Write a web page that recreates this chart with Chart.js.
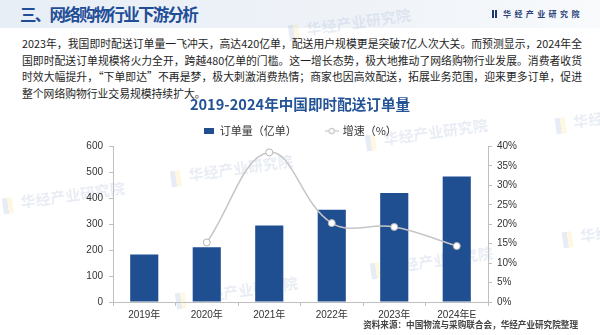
<!DOCTYPE html>
<html>
<head>
<meta charset="utf-8">
<script src="https://cdn.jsdelivr.net/npm/chart.js@4.4.0/dist/chart.umd.min.js"></script>
<style>
html, body { margin: 0; padding: 0; background: #fff; }
body { width: 600px; height: 335px; position: relative; overflow: hidden; font-family: 'Noto Sans CJK SC', sans-serif; }
.band { position: absolute; left: 0; top: 0; width: 600px; height: 28px; background: linear-gradient(to right, #e8eef6, #eff3f8 60%, #f8fafc); }
.title { position: absolute; left: 20px; top: 3px; font-size: 16.5px; font-weight: bold; color: #1f4e97; letter-spacing: -1.75px; line-height: 22px; white-space: nowrap; }
.logo { position: absolute; left: 492px; top: 9px; height: 12px; white-space: nowrap; }
.logo .ico { position: absolute; left: 0; top: 1px; width: 2px; height: 8px; background: #1d3a70; box-shadow: 3px 0 0 #1d3a70; }
.logo .txt { position: absolute; left: 11px; top: -1px; font-size: 8px; font-weight: bold; color: #2a4479; letter-spacing: 3.4px; line-height: 12px; }
.para { position: absolute; left: 22px; top: 35px; width: 560px; font-size: 10.8px; line-height: 16.6px; color: #1e1e1e; }
.para div { text-align: justify; text-align-last: justify; white-space: nowrap; }
.para div.last { text-align-last: left; }
.src { position: absolute; right: 22px; top: 318px; font-size: 8.6px; font-weight: bold; color: #444; line-height: 13px; white-space: nowrap; }
.wm { position: absolute; white-space: nowrap; font-size: 15px; font-weight: bold; color: rgba(150, 170, 205, 0.22); transform: rotate(-8deg); }
.wm::before { content: ''; display: inline-block; width: 10px; height: 16px; margin-right: 8px; vertical-align: middle; background: linear-gradient(to right, rgba(120, 150, 200, 0.18) 50%, rgba(250, 220, 120, 0.22) 50%); }
#wrap { position: absolute; left: 0; top: 94px; width: 600px; height: 241px; }
</style>
</head>
<body>
<div class="band"></div>
<div class="wm" style="left:288px;top:12px;">华经产业研究院</div>
<div class="wm" style="left:2px;top:185px;">华经产业研究院</div>
<div class="wm" style="left:170px;top:158px;">华经产业研究院</div>
<div class="wm" style="left:365px;top:122px;">华经产业研究院</div>
<div class="wm" style="left:175px;top:280px;">华经产业研究院</div>
<div class="wm" style="left:370px;top:250px;">华经产业研究院</div>
<div class="wm" style="left:555px;top:108px;">华经产业</div>
<div class="wm" style="left:562px;top:222px;">华经产业</div>
<div class="title">三、网络购物行业下游分析</div>
<div class="logo"><span class="ico"></span><span class="txt">华经产业研究院</span></div>
<div class="para">
  <div>2023年，我国即时配送订单量一飞冲天，高达420亿单，配送用户规模更是突破7亿人次大关。而预测显示，2024年全</div>
  <div>国即时配送订单规模将火力全开，跨越480亿单的门槛。这一增长态势，极大地推动了网络购物行业发展。消费者收货</div>
  <div>时效大幅提升，“下单即达”不再是梦，极大刺激消费热情；商家也因高效配送，拓展业务范围，迎来更多订单，促进</div>
  <div class="last">整个网络购物行业交易规模持续扩大。</div>
</div>
<div id="wrap"><canvas id="chart"></canvas></div>
<div class="src">资料来源：中国物流与采购联合会，华经产业研究院整理</div>
<script>
const years = ['2019年', '2020年', '2021年', '2022年', '2023年', '2024年E'];
const orders = [183, 211, 295, 356, 421, 484];
const growth = [null, 15.3, 38.5, 20.3, 19.3, 14.4];
const orderTicks = [0, 100, 200, 300, 400, 500, 600];
const growthTicks = [0, 5, 10, 15, 20, 25, 30, 35, 40];

const barColor = '#1f4e91';
const lineColor = '#c6c6c6';
const axisColor = '#bfbfbf';
const tickFont = { family: "'Liberation Sans', 'Noto Sans CJK SC'", size: 10 };

// small legend markers: a flat box and a line with a hollow dot
function makeMarks() {
    const bar = document.createElement('canvas');
    bar.width = 10; bar.height = 6;
    const b = bar.getContext('2d');
    b.fillStyle = barColor;
    b.fillRect(0, 0, 10, 6);

    const line = document.createElement('canvas');
    line.width = 14; line.height = 8;
    const l = line.getContext('2d');
    l.strokeStyle = lineColor;
    l.lineWidth = 1.2;
    l.beginPath(); l.moveTo(0, 4); l.lineTo(14, 4); l.stroke();
    l.fillStyle = '#fff';
    l.beginPath(); l.arc(7, 4, 2.6, 0, Math.PI * 2); l.fill(); l.stroke();
    return [bar, line];
}
const marks = makeMarks();

new Chart(document.getElementById('chart'), {
    data: {
        labels: years,
        datasets: [{
            type: 'bar',
            label: '订单量（亿单）',
            data: orders,
            backgroundColor: barColor,
            categoryPercentage: 1,
            barPercentage: 0.45,
            yAxisID: 'y',
            order: 2
        }, {
            type: 'line',
            label: '增速（%）',
            data: growth,
            borderColor: lineColor,
            borderWidth: 1.5,
            tension: 0.4,
            pointRadius: 3.5,
            pointBackgroundColor: '#fff',
            pointBorderColor: '#b4b4b4',
            pointBorderWidth: 1,
            yAxisID: 'y1',
            order: 1
        }]
    },
    options: {
        responsive: true,
        maintainAspectRatio: false,
        animation: false,
        layout: { padding: { left: 0, right: 0, top: 0, bottom: 13 } },
        plugins: {
            title: {
                display: true,
                text: '2019-2024年中国即时配送订单量',
                color: '#245396',
                font: { family: "'Noto Sans CJK SC'", size: 14.6, weight: 'bold' },
                padding: { top: 2, bottom: 10 }
            },
            legend: {
                labels: {
                    usePointStyle: true,
                    pointStyleWidth: 11,
                    padding: 2,
                    font: { family: "'Noto Sans CJK SC'", size: 11 },
                    generateLabels: (chart) => chart.data.datasets.map((ds, i) => ({
                        text: i === 0 ? ds.label + '\u3000\u3000\u3000' : ds.label,
                        pointStyle: marks[i],
                        fontColor: '#333',
                        lineWidth: 0,
                        hidden: false,
                        datasetIndex: i
                    }))
                }
            },
            tooltip: { enabled: false }
        },
        scales: {
            x: {
                offset: true,
                grid: { offset: true, drawOnChartArea: false, color: axisColor, tickLength: 4 },
                border: { color: axisColor },
                ticks: { color: '#333', font: tickFont, padding: 3 },
                afterFit: (s) => { s.height = 20; }
            },
            y: {
                position: 'left',
                min: orderTicks[0],
                max: orderTicks[orderTicks.length - 1],
                afterBuildTicks: (s) => { s.ticks = orderTicks.map(v => ({ value: v })); },
                grid: { drawOnChartArea: false, color: axisColor, tickLength: 4 },
                border: { color: axisColor },
                ticks: { color: '#333', font: tickFont, padding: 6 },
                afterFit: (s) => { s.width = 113; }
            },
            y1: {
                position: 'right',
                min: growthTicks[0],
                max: growthTicks[growthTicks.length - 1],
                afterBuildTicks: (s) => { s.ticks = growthTicks.map(v => ({ value: v })); },
                grid: { drawOnChartArea: false, color: axisColor, tickLength: 4 },
                border: { color: axisColor },
                ticks: { color: '#333', font: tickFont, padding: 5, callback: (v) => v + '%' },
                afterFit: (s) => { s.width = 112; }
            }
        }
    }
});
</script>
</body>
</html>
